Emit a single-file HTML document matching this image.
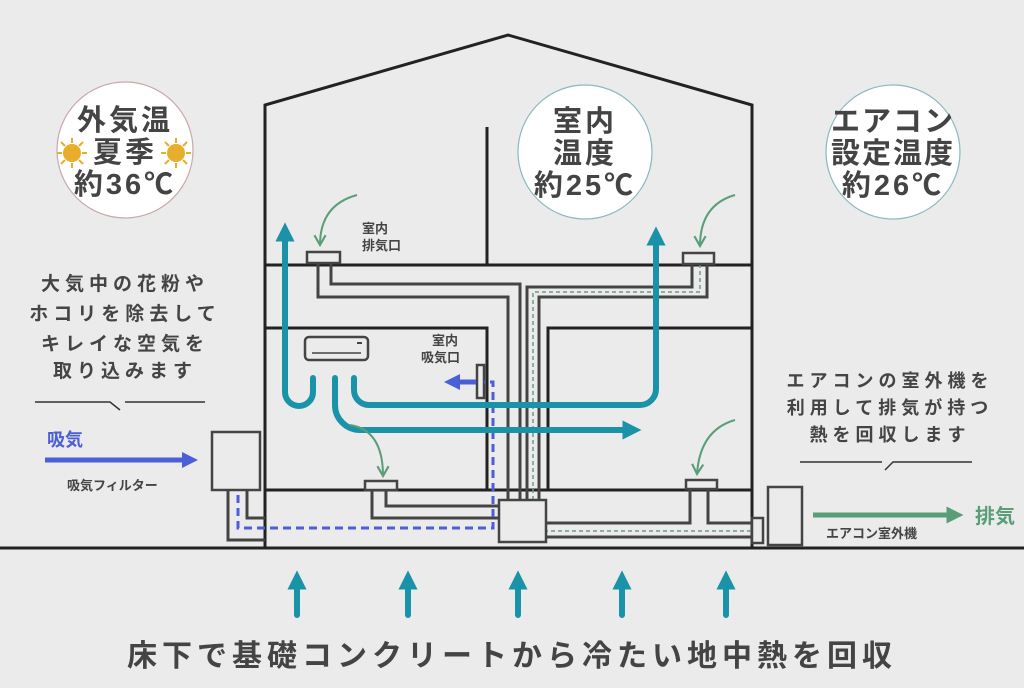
<!DOCTYPE html>
<html><head><meta charset="utf-8"><style>
html,body{margin:0;padding:0;background:#ebebeb;}
svg{display:block;}
text{font-family:"Liberation Sans","Noto Sans CJK JP",sans-serif;font-weight:bold;fill:#444;}
</style></head><body>
<svg width="1024" height="688" viewBox="0 0 1024 688" xmlns="http://www.w3.org/2000/svg">
<rect width="1024" height="688" fill="#ebebeb"/>
<defs>
<marker id="tg" viewBox="0 0 10 10" refX="5" refY="5" markerWidth="3.2" markerHeight="3.2" orient="auto"><path d="M0,0 L10,5 L0,10 z" fill="#1a93a8"/></marker>
<marker id="bl" viewBox="0 0 10 10" refX="5" refY="5" markerWidth="3.2" markerHeight="3.2" orient="auto"><path d="M0,0 L10,5 L0,10 z" fill="#4a5fd8"/></marker>
<marker id="gr" viewBox="0 0 10 10" refX="5" refY="5" markerWidth="3.4" markerHeight="3.4" orient="auto"><path d="M0,0 L10,5 L0,10 z" fill="#5a9e78"/></marker>
<marker id="sg" viewBox="0 0 10 10" refX="8" refY="5" markerWidth="7" markerHeight="7" orient="auto"><path d="M1,1 L8,5 L1,9" fill="none" stroke="#5a9e78" stroke-width="1.5"/></marker>
</defs>

<!-- house -->
<g fill="none" stroke="#222" stroke-width="3">
<polyline points="265,548 265,105 508,35 752,105 752,548"/>
<line x1="0" y1="548" x2="1024" y2="548"/>
<line x1="265" y1="265" x2="752" y2="265"/>
<line x1="487" y1="127" x2="487" y2="265"/>
<polyline points="265,328 487,328 487,490"/>
<polyline points="752,328 548,328 548,490"/>
<line x1="265" y1="490" x2="752" y2="490"/>
</g>

<!-- ducts -->
<g fill="none" stroke="#444" stroke-width="3">
<polyline points="318,262 318,297 508,297 508,500"/>
<polyline points="331,262 331,284 520,284 520,500"/>
<polyline points="527,500 527,287 692,287 692,262"/>
<polyline points="539,500 539,297 707,297 707,262"/>
<polyline points="372,490 372,518 498,518"/>
<polyline points="386,490 386,506 498,506"/>
<polyline points="690,490 690,523 547,523"/>
<polyline points="708,490 708,523 752,523"/>
<line x1="547" y1="537" x2="752" y2="537"/>
<polyline points="228,490 228,540 265,540"/>
<polyline points="247,490 247,518 265,518"/>
</g>
<g fill="none" stroke="#6a9e80" stroke-width="1.5" stroke-dasharray="4,3">
<polyline points="533,500 533,292 700,292 700,262"/>
<polyline points="533,500 533,531 760,531"/>
</g>
<!-- vents/boxes -->
<g fill="#ebebeb" stroke="#444" stroke-width="2.5">
<rect x="307" y="252" width="33" height="11"/>
<rect x="683" y="253" width="31" height="11"/>
<rect x="365" y="481" width="32" height="9"/>
<rect x="686" y="480" width="31" height="9"/>
<rect x="477" y="365" width="7" height="33"/>
<rect x="499" y="500" width="47" height="42"/>
<rect x="212" y="432" width="48" height="58"/>
<rect x="752" y="518" width="11" height="25"/>
<rect x="768" y="487" width="34" height="58"/>
<rect x="305" y="337" width="63" height="23" rx="4"/>
</g>
<line x1="312" y1="353" x2="361" y2="353" stroke="#444" stroke-width="1.5"/>
<line x1="357" y1="343" x2="362" y2="343" stroke="#444" stroke-width="2"/>

<!-- blue dashed -->
<polyline points="238,495 238,528 493,528 493,382 484,382" fill="none" stroke="#4a5fd8" stroke-width="3" stroke-dasharray="8,5"/>
<line x1="476" y1="382" x2="452" y2="382" stroke="#4a5fd8" stroke-width="5" marker-end="url(#bl)"/>

<!-- teal arrows -->
<g fill="none" stroke="#1a93a8" stroke-width="6" stroke-linecap="round">
<path d="M313,378 V392 A13,13 0 0 1 285,392 V232" marker-end="url(#tg)"/>
<path d="M335,378 V405 A25,25 0 0 0 360,430 H632" marker-end="url(#tg)"/>
<path d="M354,378 V390 A15,15 0 0 0 369,405 H640 A16,16 0 0 0 656,389 V236" marker-end="url(#tg)"/>
<line x1="297" y1="615" x2="297" y2="580" marker-end="url(#tg)"/>
<line x1="408" y1="615" x2="408" y2="580" marker-end="url(#tg)"/>
<line x1="518" y1="615" x2="518" y2="580" marker-end="url(#tg)"/>
<line x1="622" y1="615" x2="622" y2="580" marker-end="url(#tg)"/>
<line x1="726" y1="615" x2="726" y2="580" marker-end="url(#tg)"/>
</g>

<!-- green curved arrows -->
<g fill="none" stroke="#5a9e78" stroke-width="2" marker-end="url(#sg)">
<path d="M357,195 Q320,205 320,245"/>
<path d="M735,195 Q700,205 700,246"/>
<path d="M350,425 Q383,430 383,476"/>
<path d="M735,420 Q700,430 697,474"/>
</g>

<!-- intake / exhaust arrows -->
<line x1="45" y1="460" x2="190" y2="460" stroke="#4a5fd8" stroke-width="5" marker-end="url(#bl)"/>
<line x1="813" y1="515" x2="955" y2="515" stroke="#5a9e78" stroke-width="5" marker-end="url(#gr)"/>

<!-- circles -->
<circle cx="125" cy="150" r="68" fill="#fff" stroke="#c9a9a9" stroke-width="1.2"/>
<circle cx="585" cy="152" r="67" fill="#fff" stroke="#8ab8bf" stroke-width="1.2"/>
<circle cx="893" cy="152" r="67" fill="#fff" stroke="#8ab8bf" stroke-width="1.2"/>
<g font-size="29" text-anchor="middle">
<text x="125" y="130" letter-spacing="3">外気温</text>
<text x="125" y="162" letter-spacing="3">夏季</text>
<text x="125" y="194" letter-spacing="3">約36℃</text>
<text x="585" y="131" letter-spacing="3">室内</text>
<text x="585" y="163" letter-spacing="3">温度</text>
<text x="585" y="195" letter-spacing="3">約25℃</text>
<text x="893" y="131" letter-spacing="2">エアコン</text>
<text x="893" y="163" letter-spacing="2">設定温度</text>
<text x="893" y="195" letter-spacing="3">約26℃</text>
</g>
<g fill="#e8ad2a">
<circle cx="72" cy="153" r="9"/><circle cx="176" cy="153" r="9"/>
</g>
<g stroke="#e8ad2a" stroke-width="2">
<path d="M72,138v5M72,163v5M57,153h5M82,153h5M61,142l4,4M79,160l4,4M61,164l4,-4M79,146l4,-4"/>
<path d="M176,138v5M176,163v5M161,153h5M186,153h5M165,142l4,4M183,160l4,4M165,164l4,-4M183,146l4,-4"/>
</g>

<!-- left text -->
<g font-size="19" text-anchor="middle" letter-spacing="5">
<text x="125" y="290">大気中の花粉や</text>
<text x="125" y="320">ホコリを除去して</text>
<text x="125" y="350">キレイな空気を</text>
<text x="125" y="377">取り込みます</text>
<text x="890" y="387" font-size="18">エアコンの室外機を</text>
<text x="890" y="414" font-size="18">利用して排気が持つ</text>
<text x="890" y="441" font-size="18">熱を回収します</text>
</g>
<polyline points="35,402 110,402 120,410" fill="none" stroke="#333" stroke-width="1.5"/>
<line x1="125" y1="402" x2="205" y2="402" stroke="#333" stroke-width="1.5"/>
<line x1="800" y1="462" x2="882" y2="462" stroke="#333" stroke-width="1.5"/>
<polyline points="885,470 893,462 972,462" fill="none" stroke="#333" stroke-width="1.5"/>

<text x="47" y="446" font-size="18" style="fill:#4a5fd8">吸気</text>
<text x="67" y="490" font-size="13">吸気フィルター</text>
<text x="975" y="523" font-size="20" style="fill:#5a9e78">排気</text>
<text x="826" y="538" font-size="13">エアコン室外機</text>
<text x="362" y="233" font-size="13">室内</text>
<text x="362" y="250" font-size="13">排気口</text>
<text x="432" y="345" font-size="13">室内</text>
<text x="421" y="362" font-size="13">吸気口</text>

<text x="512" y="666" font-size="30" text-anchor="middle" letter-spacing="5">床下で基礎コンクリートから冷たい地中熱を回収</text>
</svg>
</body></html>
